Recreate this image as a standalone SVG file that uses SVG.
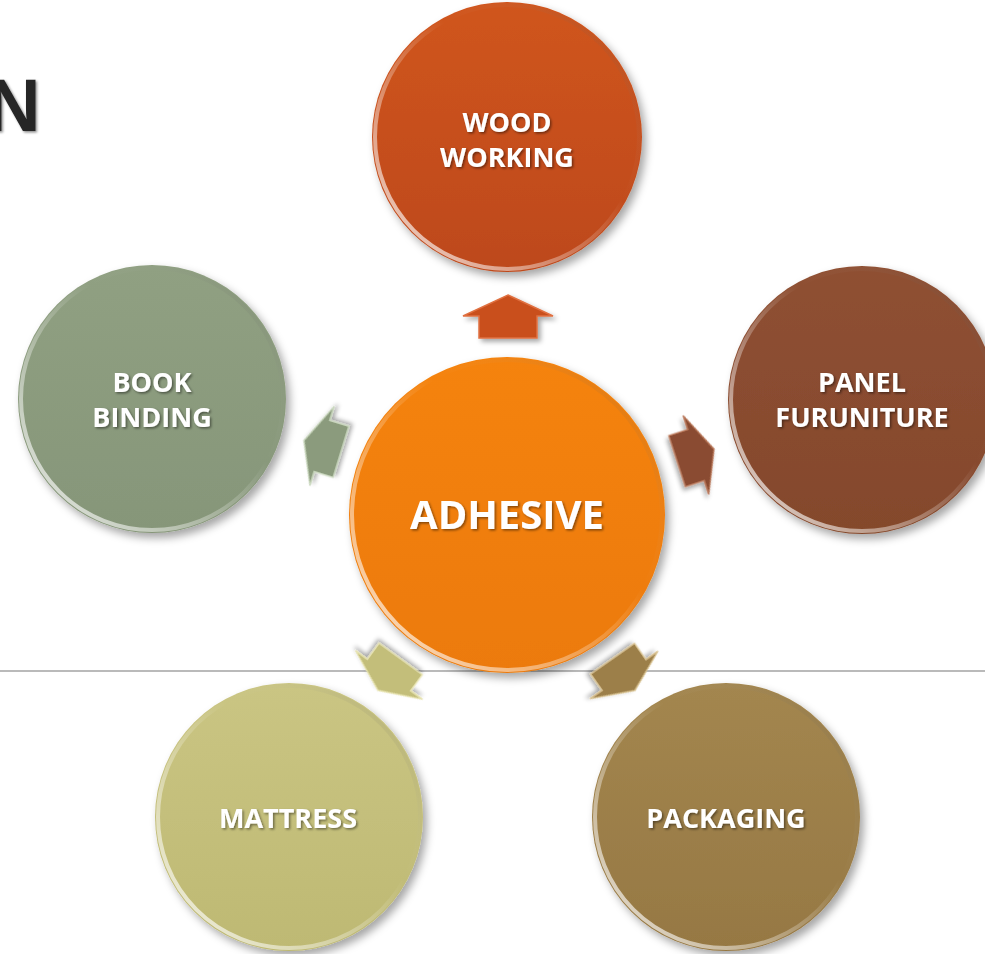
<svg xmlns="http://www.w3.org/2000/svg" width="985" height="954" viewBox="0 0 985 954">
<defs>
<style>
.lbl{font-family:"Open Sans","Liberation Sans",sans-serif;font-weight:bold;fill:#fff;text-anchor:middle;font-size:27px;filter:url(#ts)}
.big{font-size:40px}
.rim{fill:none;stroke:url(#rimg);stroke-width:4}
.arrow{stroke-width:1.5;stroke-linejoin:miter;filter:url(#as)}
</style>
<filter id="sh" x="-20%" y="-20%" width="140%" height="140%"><feDropShadow dx="4" dy="5" stdDeviation="4" flood-color="#000" flood-opacity="0.35"/></filter>
<filter id="as" x="-30%" y="-30%" width="160%" height="160%"><feDropShadow dx="3" dy="3" stdDeviation="2.5" flood-color="#000" flood-opacity="0.35"/></filter>
<filter id="ts" x="-10%" y="-20%" width="120%" height="150%"><feDropShadow dx="1.5" dy="1.5" stdDeviation="1" flood-color="#000" flood-opacity="0.45"/></filter>
<linearGradient id="rimg" x1="0" y1="1" x2="1" y2="0">
<stop offset="0" stop-color="#fff" stop-opacity="0.85"/>
<stop offset="0.35" stop-color="#fff" stop-opacity="0.35"/>
<stop offset="0.6" stop-color="#fff" stop-opacity="0"/>
<stop offset="1" stop-color="#000" stop-opacity="0.15"/>
</linearGradient>
<linearGradient id="gw" x1="0" y1="0" x2="0" y2="1"><stop offset="0" stop-color="#D0551F"/><stop offset="1" stop-color="#BD491B"/></linearGradient>
<linearGradient id="ga" x1="0" y1="0" x2="0" y2="1"><stop offset="0" stop-color="#F5830C"/><stop offset="1" stop-color="#EC7A08"/></linearGradient>
<linearGradient id="gb" x1="0" y1="0" x2="0" y2="1"><stop offset="0" stop-color="#90A082"/><stop offset="1" stop-color="#869679"/></linearGradient>
<linearGradient id="gp" x1="0" y1="0" x2="0" y2="1"><stop offset="0" stop-color="#8F5033"/><stop offset="1" stop-color="#84482C"/></linearGradient>
<linearGradient id="gm" x1="0" y1="0" x2="0" y2="1"><stop offset="0" stop-color="#CAC583"/><stop offset="1" stop-color="#BEB973"/></linearGradient>
<linearGradient id="gk" x1="0" y1="0" x2="0" y2="1"><stop offset="0" stop-color="#A3864F"/><stop offset="1" stop-color="#967843"/></linearGradient>
<path id="arr" d="M0,-21 L45,0 L29,0 L29,22 L-29,22 L-29,0 L-45,0 Z"/>
</defs>
<rect width="985" height="954" fill="#fff"/>
<line x1="0" y1="671" x2="985" y2="671" stroke="#a3a3a3" stroke-width="1.5"/>
<text x="-13" y="131" font-family="'Liberation Sans',Arial,sans-serif" font-weight="bold" font-size="74" fill="#262626" filter="url(#ts)">N</text>

<g id="connectors">
<use href="#arr" class="arrow" fill="#C94F1D" stroke="#E07040" transform="translate(508,316)"/>
<use href="#arr" class="arrow" fill="#8B9B7D" stroke="#C8D6BC" transform="translate(322,446) rotate(-73) scale(0.92,0.9)"/>
<use href="#arr" class="arrow" fill="#8A4C31" stroke="#B87658" transform="translate(696,455) rotate(72) scale(0.92,0.9)"/>
<use href="#arr" class="arrow" fill="#C3BE7A" stroke="#E6E2AE" transform="translate(389,675) rotate(-144) scale(0.92,0.9)"/>
<use href="#arr" class="arrow" fill="#9C7F4A" stroke="#D7C08E" transform="translate(624,675) rotate(145) scale(0.92,0.9)"/>
</g>

<g id="wood">
<circle cx="507" cy="137" r="135" fill="url(#gw)" filter="url(#sh)"/>
<circle cx="507" cy="137" r="132" class="rim"/>
<text class="lbl" x="507" y="132">WOOD</text>
<text class="lbl" x="507" y="167">WORKING</text>
</g>

<g id="book">
<circle cx="152" cy="399" r="134" fill="url(#gb)" filter="url(#sh)"/>
<circle cx="152" cy="399" r="131" class="rim"/>
<text class="lbl" x="152" y="392">BOOK</text>
<text class="lbl" x="152" y="427">BINDING</text>
</g>

<g id="panel">
<circle cx="862" cy="400" r="134" fill="url(#gp)" filter="url(#sh)"/>
<circle cx="862" cy="400" r="131" class="rim"/>
<text class="lbl" x="862" y="392">PANEL</text>
<text class="lbl" x="862" y="427">FURUNITURE</text>
</g>

<g id="mattress">
<circle cx="289" cy="817" r="134" fill="url(#gm)" filter="url(#sh)"/>
<circle cx="289" cy="817" r="131" class="rim"/>
<text class="lbl" x="288" y="828">MATTRESS</text>
</g>

<g id="packaging">
<circle cx="726" cy="817" r="134" fill="url(#gk)" filter="url(#sh)"/>
<circle cx="726" cy="817" r="131" class="rim"/>
<text class="lbl" x="726" y="828">PACKAGING</text>
</g>

<g id="adhesive">
<circle cx="507" cy="515" r="158" fill="url(#ga)" filter="url(#sh)"/>
<circle cx="507" cy="515" r="155" class="rim"/>
<text class="lbl big" x="507" y="529">ADHESIVE</text>
</g>
</svg>
